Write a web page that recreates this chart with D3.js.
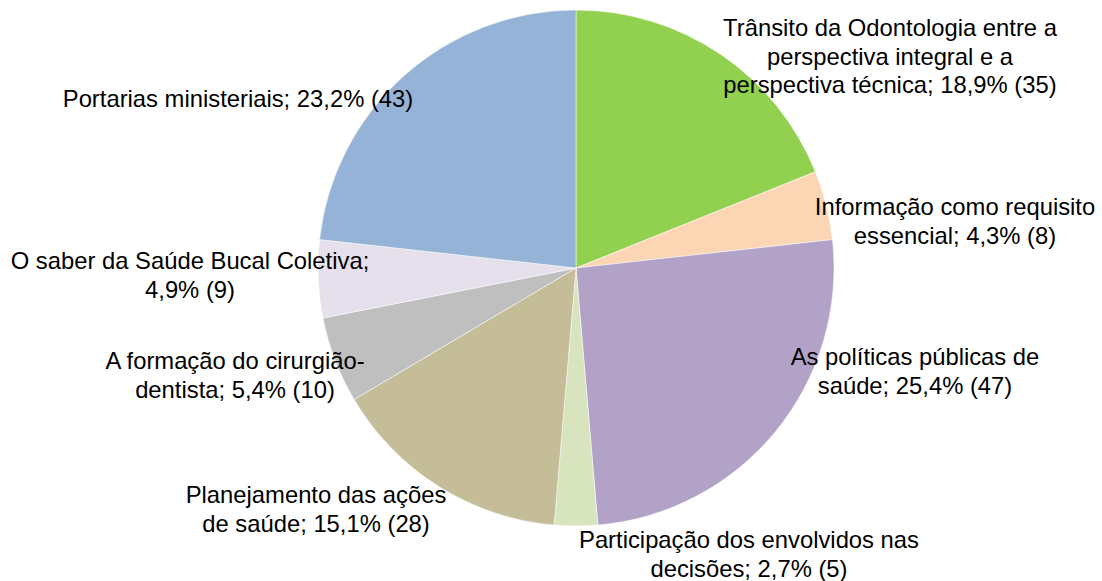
<!DOCTYPE html>
<html>
<head>
<meta charset="utf-8">
<script src="https://cdn.jsdelivr.net/npm/d3@7"></script>
<style>
  body { margin: 0; background: #fff; }
  svg text { font-family: "Liberation Sans", Arial, sans-serif; font-size: 23.8px; fill: #000; }
</style>
</head>
<body>
<svg id="chart" width="1102" height="581"></svg>
<script>
const categories = [
  'Trânsito da Odontologia entre a perspectiva integral e a perspectiva técnica',
  'Informação como requisito essencial',
  'As políticas públicas de saúde',
  'Participação dos envolvidos nas decisões',
  'Planejamento das ações de saúde',
  'A formação do cirurgião-dentista',
  'O saber da Saúde Bucal Coletiva',
  'Portarias ministeriais',
];
const counts = [35, 8, 47, 5, 28, 10, 9, 43];
const percents = ['18,9%', '4,3%', '25,4%', '2,7%', '15,1%', '5,4%', '4,9%', '23,2%'];
const labelLines = [
  ['Trânsito da Odontologia entre a', 'perspectiva integral e a', 'perspectiva técnica; 18,9% (35)'],
  ['Informação como requisito', 'essencial; 4,3% (8)'],
  ['As políticas públicas de', 'saúde; 25,4% (47)'],
  ['Participação dos envolvidos nas', 'decisões; 2,7% (5)'],
  ['Planejamento das ações', 'de saúde; 15,1% (28)'],
  ['A formação do cirurgião-', 'dentista; 5,4% (10)'],
  ['O saber da Saúde Bucal Coletiva;', '4,9% (9)'],
  ['Portarias ministeriais; 23,2% (43)'],
];
const colors = ['#92d050', '#fcd5b5', '#b3a2c7', '#d7e4bd', '#c4bd97', '#bfbfbf', '#e6e0ec', '#95b3d7'];

// label anchor (center x, first baseline) relative to pie center
const labelPos = [
  [314, -232], [379, -53], [339, 97], [173, 280],
  [-260, 235], [-341, 101], [-386, 1], [-338, -161],
];

const svg = d3.select('#chart');
const cx = 576, cy = 268, r = 258;
const lineH = 28.5;

const data = categories.map((c, i) => ({ name: c, value: counts[i], i }));
const pie = d3.pie().sort(null).value(d => d.value);
const arc = d3.arc().innerRadius(0).outerRadius(r);

const g = svg.append('g').attr('transform', `translate(${cx},${cy})`);
g.selectAll('path')
  .data(pie(data))
  .join('path')
  .attr('d', arc)
  .attr('fill', d => colors[d.data.i])
  .attr('stroke', '#fff')
  .attr('stroke-width', 0.5);

const labels = g.selectAll('text.lbl')
  .data(data)
  .join('text')
  .attr('class', 'lbl')
  .attr('text-anchor', 'middle')
  .attr('x', d => labelPos[d.i][0])
  .attr('y', d => labelPos[d.i][1]);
labels.selectAll('tspan')
  .data(d => labelLines[d.i].map(t => ({ t, x: labelPos[d.i][0] })))
  .join('tspan')
  .attr('x', t => t.x)
  .attr('dy', (t, j) => j === 0 ? 0 : lineH)
  .text(t => t.t);
</script>
</body>
</html>
